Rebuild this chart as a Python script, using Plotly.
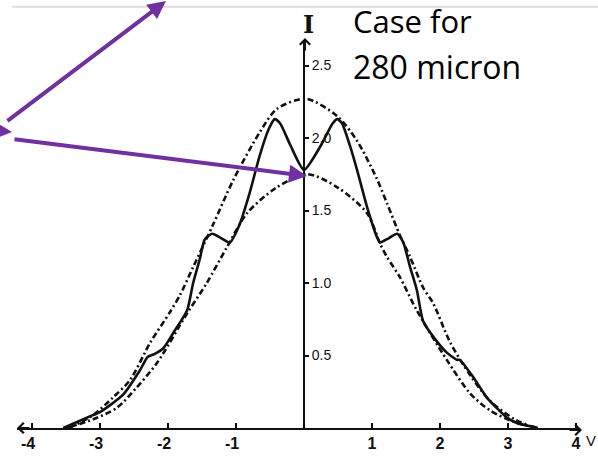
import plotly.graph_objects as go

W, H = 598, 458

# ---- data ----
solid_x = [-3.54, -3.15, -3.0, -2.66, -2.41, -2.3, -2.2, -2.07, -1.93, -1.72, -1.63, -1.53, -1.46,
           -1.35, -1.22, -1.09, -0.95, -0.8, -0.65, -0.52, -0.43, -0.35, -0.2, 0.0, 0.25, 0.42,
           0.49, 0.56, 0.68, 0.78, 0.93, 1.07, 1.12, 1.25, 1.37, 1.46, 1.56, 1.66, 1.75, 1.9,
           2.1, 2.25, 2.29, 2.49, 2.69, 2.99, 3.13, 3.44]
solid_y = [0.0, 0.08, 0.11, 0.23, 0.40, 0.49, 0.51, 0.55, 0.65, 0.81, 1.0, 1.17, 1.30,
           1.34, 1.31, 1.28, 1.40, 1.62, 1.88, 2.06, 2.13, 2.10, 1.95, 1.78, 1.95, 2.10,
           2.13, 2.10, 1.94, 1.78, 1.52, 1.32, 1.28, 1.31, 1.34, 1.28, 1.11, 0.95, 0.74, 0.63,
           0.52, 0.47, 0.47, 0.35, 0.21, 0.07, 0.035, 0.0]

upper_x = [-3.45, -3.1, -2.81, -2.56, -2.26, -1.97, -1.82, -1.63, -1.34, -1.04, -0.65, -0.4,
           0.03, 0.49, 0.78, 1.07, 1.22, 1.41, 1.56, 1.75, 1.9, 2.15, 2.45, 2.75, 3.1, 3.4]
upper_y = [0.0, 0.09, 0.21, 0.33, 0.59, 0.80, 0.92, 1.11, 1.40, 1.71, 2.04, 2.20,
           2.27, 2.15, 1.98, 1.72, 1.55, 1.33, 1.18, 0.97, 0.86, 0.59, 0.36, 0.18, 0.06, 0.0]

lower_x = [-3.5, -3.1, -2.75, -2.46, -2.16, -1.72, -1.43, -1.13, -0.84, -0.4, 0.05, 0.49,
           0.93, 1.12, 1.22, 1.41, 1.66, 2.1, 2.44, 2.74, 3.1, 3.45]
lower_y = [0.0, 0.06, 0.14, 0.28, 0.45, 0.79, 1.0, 1.25, 1.48, 1.66, 1.75, 1.66,
           1.48, 1.27, 1.18, 1.04, 0.81, 0.47, 0.24, 0.12, 0.04, 0.0]

x_ticks = [-4, -3, -2, -1, 1, 2, 3, 4]
x_tick_text = ["-4\u2002", "-3\u2002", "-2\u2002", "-1\u2002", "1", "2", "3", "4"]
y_ticks = [0.5, 1.0, 1.5, 2.0, 2.5]
y_tick_text = ["0.5", "1.0", "1.5", "2.0", "2.5"]

title_lines = ["Case for", "280 micron"]

PURPLE = "#7030A0"
INK = "#111111"
DASHDOT = "6px,3px,2px,3px"

fig = go.Figure()
fig.add_trace(go.Scatter(x=upper_x, y=upper_y, mode="lines",
                         line=dict(color=INK, width=2.6, dash=DASHDOT, shape="spline", smoothing=0.8),
                         hoverinfo="skip"))
fig.add_trace(go.Scatter(x=lower_x, y=lower_y, mode="lines",
                         line=dict(color=INK, width=2.6, dash=DASHDOT, shape="spline", smoothing=0.8),
                         hoverinfo="skip"))
fig.add_trace(go.Scatter(x=solid_x, y=solid_y, mode="lines",
                         line=dict(color=INK, width=2.6, shape="spline", smoothing=0.6),
                         hoverinfo="skip"))

# helpers to place decorations in pixels
def px(xp):
    return xp / W

def py(yp):
    return 1 - yp / H

anns = []
# axis arrowheads
anns.append(dict(xref="paper", yref="paper", x=px(17), y=py(428), ax=14, ay=0,
                 text="", showarrow=True, arrowhead=4, arrowsize=1.0, arrowwidth=2, arrowcolor=INK))
anns.append(dict(xref="paper", yref="paper", x=px(582), y=py(430), ax=-14, ay=0,
                 text="", showarrow=True, arrowhead=4, arrowsize=1.0, arrowwidth=2, arrowcolor=INK))
anns.append(dict(xref="paper", yref="paper", x=px(305), y=py(38), ax=0, ay=14,
                 text="", showarrow=True, arrowhead=4, arrowsize=1.0, arrowwidth=2, arrowcolor=INK))
# axis names
anns.append(dict(xref="paper", yref="paper", x=px(308), y=py(24), text="<b>I</b>", showarrow=False,
                 font=dict(family="DejaVu Serif", size=24, color=INK), xanchor="center", yanchor="middle"))
anns.append(dict(xref="paper", yref="paper", x=px(598), y=py(440), text="V", showarrow=False,
                 font=dict(family="Liberation Sans", size=15, color=INK), xanchor="right", yanchor="middle"))
# title text
anns.append(dict(xref="paper", yref="paper", x=px(351), y=py(21), text=title_lines[0], showarrow=False,
                 font=dict(family="Open Sans", size=31, color="#000000"), xanchor="left", yanchor="middle"))
anns.append(dict(xref="paper", yref="paper", x=px(351), y=py(66), text=title_lines[1], showarrow=False,
                 font=dict(family="Open Sans", size=32, color="#000000"), xanchor="left", yanchor="middle"))
# purple arrows
anns.append(dict(xref="paper", yref="paper", x=px(166), y=py(-2), ax=6 - 166, ay=122 + 2,
                 text="", showarrow=True, arrowhead=2, arrowsize=0.9, arrowwidth=4, arrowcolor=PURPLE))
anns.append(dict(xref="paper", yref="paper", x=px(307), y=py(176), ax=13 - 307, ay=139 - 176,
                 text="", showarrow=True, arrowhead=2, arrowsize=0.9, arrowwidth=4, arrowcolor=PURPLE))
anns.append(dict(xref="paper", yref="paper", x=px(12), y=py(132), ax=-14, ay=-1,
                 text="", showarrow=True, arrowhead=2, arrowsize=0.9, arrowwidth=4, arrowcolor=PURPLE))

shapes = [dict(type="line", xref="paper", yref="paper", x0=px(12), x1=1.0, y0=py(6.7), y1=py(6.7),
               line=dict(color="#dddddd", width=2))]

fig.update_layout(
    width=W, height=H,
    margin=dict(l=0, r=0, t=0, b=0),
    paper_bgcolor="white", plot_bgcolor="white",
    showlegend=False,
    annotations=anns, shapes=shapes,
    xaxis=dict(domain=[px(17), px(580)], range=[(17 - 304) / 68, (580 - 304) / 68],
               showgrid=False, zeroline=False, showline=True, linecolor=INK, linewidth=2,
               ticks="inside", ticklen=5, tickwidth=2, tickcolor=INK,
               tickvals=x_ticks, ticktext=x_tick_text,
               tickfont=dict(family="Liberation Sans", size=16, color=INK, weight="bold")),
    yaxis=dict(domain=[py(428), py(40)], range=[0, (428 - 40) / 145],
               anchor="free", position=px(304), side="right",
               showgrid=False, zeroline=False, showline=True, linecolor=INK, linewidth=2,
               ticks="outside", ticklen=4, tickwidth=2, tickcolor=INK,
               tickvals=y_ticks, ticktext=y_tick_text,
               tickfont=dict(family="Liberation Sans", size=14, color=INK)),
)

fig.write_html("out.html", config={"displayModeBar": False},
               post_script="document.body.style.margin='0';document.body.style.overflow='hidden';")
